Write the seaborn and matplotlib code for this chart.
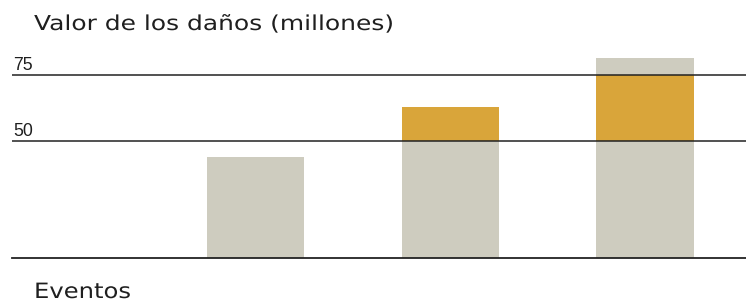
import matplotlib
matplotlib.use("Agg")
import matplotlib.pyplot as plt
import seaborn as sns
import numpy as np
import pandas as pd
from matplotlib.patheffects import AbstractPathEffect
from matplotlib.transforms import Affine2D

# ---- data ----
categories = ["1", "2", "3", "4"]
values = [0.0, 44.0, 63.0, 81.6]
band_low = 50
band_high = 75
grid_values = [50, 75]
grid_labels = ["50", "75"]
title = "Valor de los daños (millones)"
xlabel = "Eventos"

gray = "#CECCBF"
orange = "#D9A53A"
line_col = "#222222"
text_col = "#1f1f1f"

sns.set_theme(style="white")
plt.rcParams["font.family"] = ["Liberation Sans", "DejaVu Sans"]


class Stretch(AbstractPathEffect):
    """Widen text horizontally (imitates the tracked lettering)."""
    def __init__(self, sx):
        super().__init__()
        self.sx = sx

    def draw_path(self, renderer, gc, tpath, affine, rgbFace=None):
        renderer.draw_path(gc, tpath, Affine2D().scale(self.sx, 1) + affine, rgbFace)


df = pd.DataFrame({"cat": categories, "val": values})
df["mid"] = np.minimum(df["val"], band_high)
df["low"] = np.minimum(df["val"], band_low)

W, H = 746, 303
fig = plt.figure(figsize=(W / 100, H / 100), dpi=100)
ax_left, ax_right = 12 / W, 746 / W
ax_bottom, ax_top = (H - 258) / H, (H - 40) / H
ax = fig.add_axes([ax_left, ax_bottom, ax_right - ax_left, ax_top - ax_bottom])

common = dict(x="cat", order=categories, width=0.5, saturation=1,
              linewidth=0, ax=ax, errorbar=None)
sns.barplot(data=df, y="val", color=gray, **common)
sns.barplot(data=df, y="mid", color=orange, **common)
sns.barplot(data=df, y="low", color=gray, **common)

ax.set_ylim(5.8, 88.4)
ax.set_xlim(-0.252, 3.518)

for gv, gl in zip(grid_values, grid_labels):
    ax.axhline(gv, color=line_col, linewidth=1.1, zorder=5)
    ax.annotate(gl, xy=(0, gv), xycoords=ax.get_yaxis_transform(),
                xytext=(1, 5), textcoords="offset pixels",
                ha="left", va="baseline", fontsize=12.7, color=text_col)

for s in ["top", "left", "right"]:
    ax.spines[s].set_visible(False)
ax.spines["bottom"].set_color(line_col)
ax.spines["bottom"].set_linewidth(1.3)
ax.set_xticks([])
ax.set_yticks([])
ax.set_xlabel("")
ax.set_ylabel("")

t_title = fig.text(34 / W, (H - 30) / H, title, ha="left", va="baseline",
                   fontsize=14.8, color=text_col, family="DejaVu Sans")
t_xlab = fig.text(34 / W, (H - 298) / H, xlabel, ha="left", va="baseline",
                  fontsize=15.2, color=text_col, family="DejaVu Sans")

fig.canvas.draw()
for t, target in [(t_title, 359), (t_xlab, 97)]:
    w = t.get_window_extent().width
    t.set_path_effects([Stretch(target / w)])

fig.savefig("out.png", dpi=100)
